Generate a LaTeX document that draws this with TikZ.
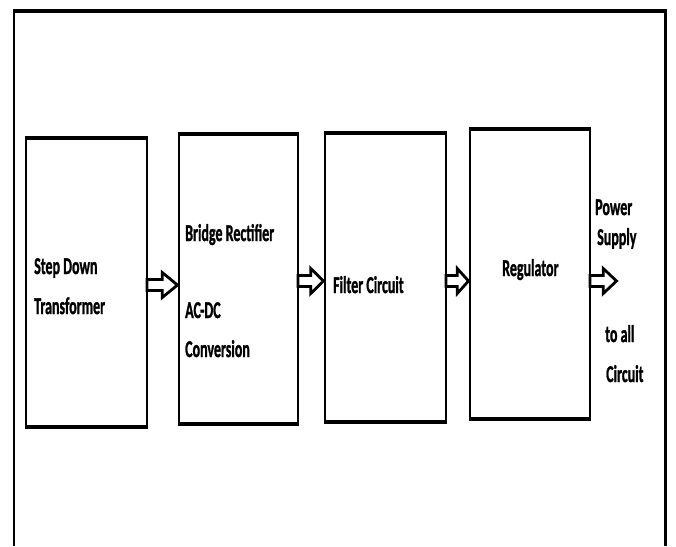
\documentclass[tikz,border=0pt]{standalone}
\usepackage{fontspec}
\setmainfont{Carlito}
\newfontfamily\heavyfont{Carlito}[UprightFont=*-Bold, UprightFeatures={FakeBold=1.5}]
\usepackage{graphicx}
\usetikzlibrary{calc}
\newcommand\vs[1]{\scalebox{1}[1.72]{#1}}
\newcommand\blockarr[2]{%
  \path (#1) coordinate (s) ([xshift=-1.5pt]#2) coordinate (e) ($(s)!0.5!(e)$) coordinate (m);
  \draw[barrow] ([yshift=5.5pt]s) -- ([yshift=5.5pt]m) -- ([yshift=12.5pt]m) -- (e)
     -- ([yshift=-12.5pt]m) -- ([yshift=-5.5pt]m) -- ([yshift=-5.5pt]s) -- cycle;}
\begin{document}
\begin{tikzpicture}[x=1pt,y=-1pt,
  blk/.style={draw, line width=2pt, inner sep=0pt, outer sep=0pt, rectangle},
  edgebar/.style={line width=4pt},
  lbl/.style={anchor=base west, inner sep=0pt, font=\fontsize{14}{16}\heavyfont},
  barrow/.style={draw, line width=2.8pt, fill=white, line join=miter}]
\useasboundingbox (0,0) rectangle (676,546);
% outer frame
\draw[line width=2.5pt] (14,546) -- (14,11) -- (665.5,11) -- (665.5,546);
\draw[edgebar] (12.75,11) -- (666.75,11);
% boxes
\node[blk, minimum width=121pt, minimum height=289pt] (b1) at (86.5,282.5) {};
\node[blk, minimum width=119pt, minimum height=289.5pt] (b2) at (238.5,278.75) {};
\node[blk, minimum width=121pt, minimum height=289pt] (b3) at (385.5,277.5) {};
\node[blk, minimum width=120pt, minimum height=290pt] (b4) at (530,274) {};
\foreach \b in {b1,b2,b3,b4}{
  \draw[edgebar] ([xshift=-1pt]\b.north west) -- ([xshift=1pt]\b.north east);
  \draw[edgebar] ([xshift=-1pt]\b.south west) -- ([xshift=1pt]\b.south east);
}
% labels
\node[lbl] (t1a) at (34,274) {\vs{Step Down}};
\node[lbl] (t1b) at (34,314) {\vs{Transformer}};
\node[lbl] (t2a) at (185,241) {\vs{Bridge Rectifier}};
\node[lbl] (t2b) at (185,318) {\vs{AC-DC}};
\node[lbl] (t2c) at (185,357) {\vs{Conversion}};
\node[lbl] (t3) at (333,293) {\vs{Filter Circuit}};
\node[lbl] (t4) at (502,276) {\vs{Regulator}};
\node[lbl] (o1) at (595,215) {\vs{Power}};
\node[lbl] (o2) at (597,245) {\vs{Supply}};
\node[lbl] (o3) at (605,342) {\vs{to all}};
\node[lbl] (o4) at (606,382) {\vs{Circuit}};
% arrows
\coordinate (a1s) at (b1.east |- 0,285);
\coordinate (a1e) at (b2.west |- 0,285);
\coordinate (a2s) at (b2.east |- 0,281);
\coordinate (a2e) at (b3.west |- 0,281);
\coordinate (a3s) at (b3.east |- 0,281);
\coordinate (a3e) at (b4.west |- 0,281);
\coordinate (a4s) at (b4.east |- 0,281);
\coordinate (a4e) at (618,281);
\blockarr{a1s}{a1e}
\blockarr{a2s}{a2e}
\blockarr{a3s}{a3e}
\blockarr{a4s}{a4e}
\end{tikzpicture}
\end{document}
